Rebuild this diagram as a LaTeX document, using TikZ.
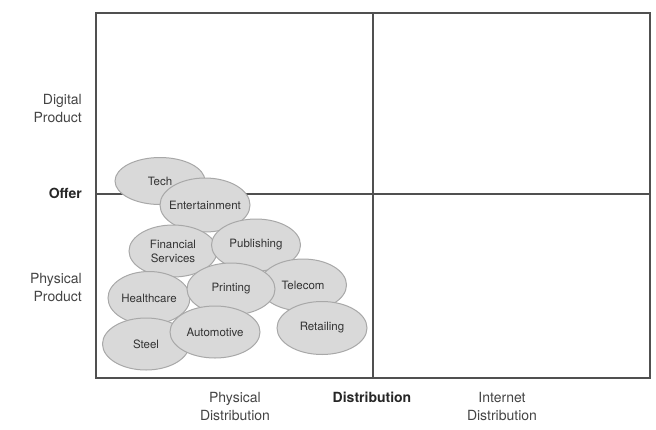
\documentclass[tikz,border=0pt]{standalone}
\usepackage{fontspec}
\setmainfont{TeX Gyre Heros}
\usetikzlibrary{shapes.geometric,positioning}
\definecolor{ovalfill}{HTML}{D9D9D9}
\definecolor{ovaldraw}{HTML}{A8A8A8}
\definecolor{framegray}{HTML}{505050}
\definecolor{textgray}{HTML}{444444}
\begin{document}
\begin{tikzpicture}[x=1pt,y=-1pt,text=textgray,font=\fontsize{14}{18}\selectfont,
  industry/.style={ellipse,draw=ovaldraw,fill=ovalfill,line width=1pt,inner xsep=-7pt,inner ysep=0pt,
    align=center,text=black!80,font=\fontsize{11.5}{14}\selectfont}]
\useasboundingbox (0,0) rectangle (656,429);
% frame of the matrix
\coordinate (NW) at (96,13);
\coordinate (SE) at (650,378);
\coordinate (top) at (373,13);
\coordinate (bot) at (373,378);
\coordinate (left) at (96,194);
\coordinate (right) at (650,194);
\draw[framegray,line width=1.1pt] (NW) rectangle (SE);
\draw[framegray,line width=1.1pt] (top)--(bot);
\draw[framegray,line width=1.1pt] (left)--(right);
% axis labels
\node[anchor=east,align=right,inner sep=0pt] (digital) at (82,108) {Digital\\Product};
\node[anchor=east,inner sep=0pt,text=black!85,font=\fontsize{14}{18}\selectfont\bfseries] (offer) at (82,193) {Offer};
\node[anchor=east,align=right,inner sep=0pt] (physical) at (82,287) {Physical\\Product};
\node[align=center] (physdist) at (235,406) {Physical\\Distribution};
\node[text=black!85,font=\fontsize{14}{18}\selectfont\bfseries] (dist) at (372,397) {Distribution};
\node[align=center] (netdist) at (502,406) {Internet\\Distribution};
% industries
\foreach \n/\x/\y/\w/\h/\t in {tech/160/181/90/47/Tech,
  ent/205/205/90/54/Entertainment,
  fin/173/251/88/52/{Financial\\Services},
  pub/256/245/89/52/Publishing,
  health/149/298/82/53/Healthcare,
  tele/303/285/87/52/Telecom,
  print/231/289/88/52/Printing,
  steel/146/344/87/52/Steel,
  auto/215/332/90/52/Automotive,
  retail/322/328/90/53/Retailing}
  \node[industry,minimum width=\w pt,minimum height=\h pt] (\n) at (\x,\y) {\t};
\end{tikzpicture}
\end{document}
